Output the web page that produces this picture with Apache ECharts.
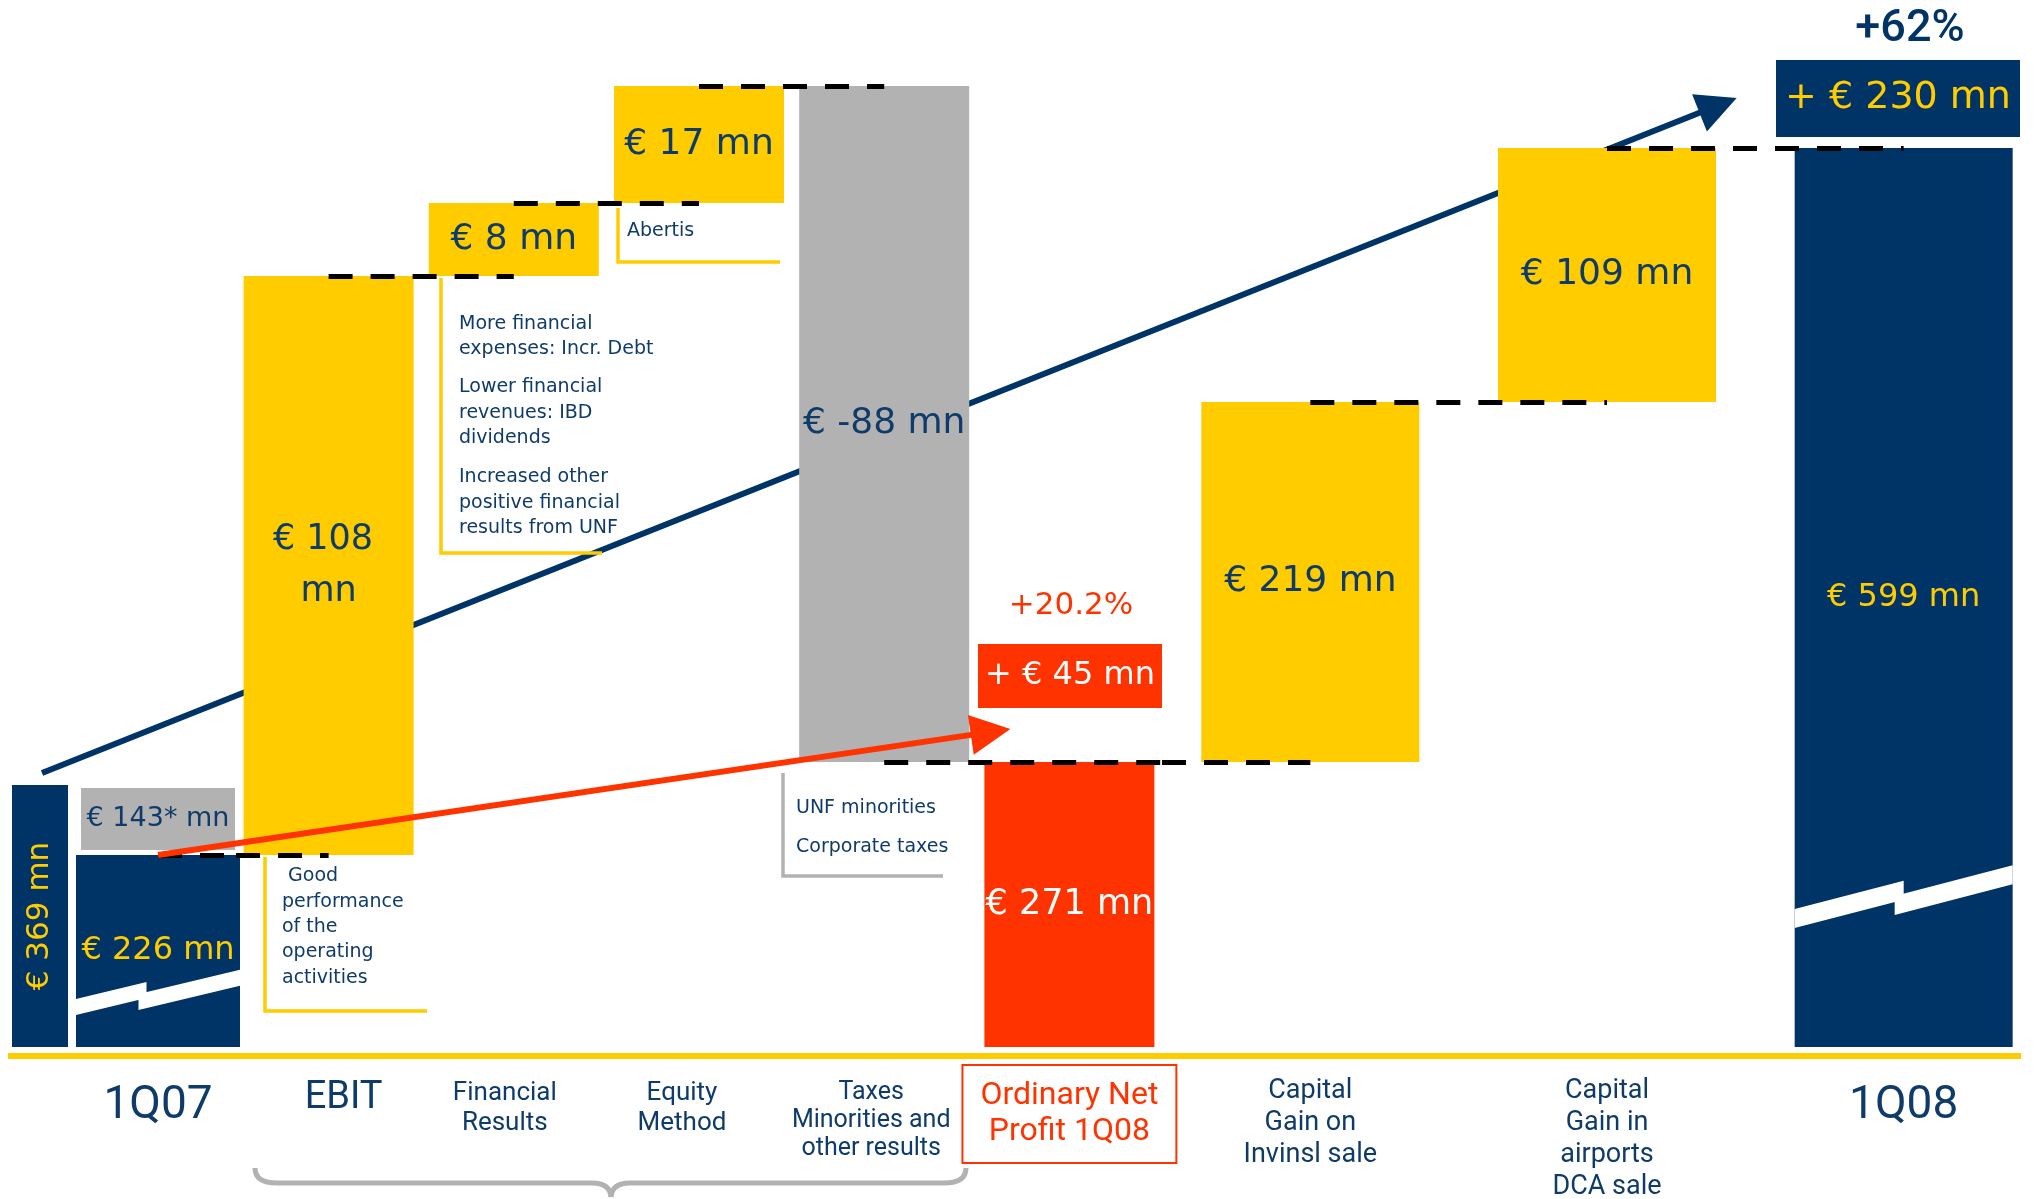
<!DOCTYPE html>
<html>
<head>
<meta charset="utf-8">
<title>Net profit bridge 1Q07 - 1Q08</title>
<script src="https://cdn.jsdelivr.net/npm/echarts@6/dist/echarts.min.js"></script>
<style>
  html, body { margin: 0; padding: 0; background: #fff; }
  #chart { width: 2037px; height: 1199px; }
</style>
</head>
<body>
<div id="chart"></div>
<script>
// ---- data (EUR mn) ----
const q07Category = ['1Q07'];
const bridgeCategories = ['EBIT', 'Financial\nResults', 'Equity\nMethod', 'Taxes\nMinorities and\nother results', 'Ordinary Net\nProfit 1Q08'];
const gainCategories = ['Capital\nGain on\nInvinsl sale', 'Capital\nGain in\nairports\nDCA sale', '1Q08'];

const netProfit1Q07 = 369;
const ordinary1Q07 = 226;
const nonOrdinary1Q07 = 143;
const nonOrdinaryNote = '*';
const bridgeSteps = [108, 8, 17, -88];      // EBIT, financial results, equity method, taxes & minorities
const ordinary1Q08 = 271;
const capitalGains = [219, 109];            // Invinsl sale, airports DCA sale
const netProfit1Q08 = 599;

const ordinaryGrowthText = '+20.2%';
const totalGrowthText = '+62%';

const noteEbit = [' Good', 'performance', 'of the', 'operating', 'activities'];
const noteFinancial = [
  ['More financial', 'expenses: Incr. Debt'],
  ['Lower financial', 'revenues: IBD', 'dividends'],
  ['Increased other', 'positive financial', 'results from UNF']
];
const noteEquity = ['Abertis'];
const noteTaxes = [['UNF minorities'], ['Corporate taxes']];

// ---- derived waterfall levels ----
const bridgeLevels = [ordinary1Q07];
bridgeSteps.forEach(s => bridgeLevels.push(bridgeLevels[bridgeLevels.length - 1] + s));
const bridgeBase = bridgeSteps.map((s, i) => Math.min(bridgeLevels[i], bridgeLevels[i + 1])).concat([0]);
const bridgeSize = bridgeSteps.map(Math.abs).concat([ordinary1Q08]);
const bridgeShown = bridgeSteps.concat([ordinary1Q08]);

const gainLevels = [ordinary1Q08];
capitalGains.forEach(g => gainLevels.push(gainLevels[gainLevels.length - 1] + g));
const gainBase = capitalGains.map((g, i) => gainLevels[i]).concat([0]);
const gainSize = capitalGains.concat([netProfit1Q08]);

const mn = v => '€ ' + v + ' mn';

// ---- style ----
const NAVY = '#003366';
const YELLOW = '#FFCC00';
const GREY = '#B2B2B2';
const RED = '#FF3300';
const TEXT = '#0F3B6B';
const LABEL_FONT = 'DejaVu Sans';
const CAT_FONT = 'Roboto';

const GRID_TOTAL  = { left: 12,   top: 785, width: 56,  height: 262 };
const GRID_Q07    = { left: 76,   top: 783, width: 164, height: 264 };
const GRID_BRIDGE = { left: 236,  top: 86,  width: 926, height: 961 };
const GRID_GAINS  = { left: 1162, top: 148, width: 890, height: 899 };
const BRIDGE_BAR = 170;
const GAINS_BAR = 218;

const dash = { color: '#000', width: 5, type: [24, 18] };
function connectors(pairs) {
  return { silent: true, symbol: 'none', label: { show: false }, lineStyle: dash,
           emphasis: { disabled: true }, animation: false, z: 6, data: pairs };
}
const hiddenY = (grid, extra) => Object.assign({ gridIndex: grid, type: 'value', show: false,
  breakArea: { show: false, itemStyle: { opacity: 0 } } }, extra);
const catAxis = (grid, data, margin) => ({
  gridIndex: grid, type: 'category', data: data,
  axisLine: { show: false }, axisTick: { show: false }, splitLine: { show: false },
  axisLabel: { show: true, interval: 0, margin: margin, color: TEXT, fontFamily: CAT_FONT }
});

const bridgeCatStyle = [
  { fontSize: 38, lineHeight: 38, padding: [14, 0, 0, 30] },
  { fontSize: 26, lineHeight: 30, padding: [13, 18, 0, 0] },
  { fontSize: 26, lineHeight: 30, padding: [13, 34, 0, 0] },
  { fontSize: 25, lineHeight: 28, padding: [14, 26, 0, 0] },
  { fontSize: 32, lineHeight: 36, color: RED, borderColor: RED, borderWidth: 2, padding: [13, 18, 13, 18] }
];
const gainCatStyle = [
  { fontSize: 27, lineHeight: 32 },
  { fontSize: 27, lineHeight: 32 },
  { fontSize: 46, lineHeight: 46, padding: [8, 0, 0, 0] }
];
const withStyle = (names, styles) => names.map((n, i) => ({
  value: n, textStyle: Object.assign({ fontFamily: CAT_FONT, color: TEXT }, styles[i]) }));

const bridgeColors = [YELLOW, YELLOW, YELLOW, GREY, RED];
const bridgeLabelColors = [TEXT, TEXT, TEXT, TEXT, '#fff'];
const bridgeLabelSizes = [35, 36, 36, 36, 35];
const gainColors = [YELLOW, YELLOW, NAVY];
const gainLabelColors = [TEXT, TEXT, YELLOW];
const gainLabelSizes = [36, 36, 32];

const option = {
  animation: false,
  backgroundColor: '#fff',
  tooltip: { show: false },
  grid: [GRID_TOTAL, GRID_Q07, GRID_BRIDGE, GRID_GAINS].map(g =>
    Object.assign({ containLabel: false, outerBoundsMode: 'none' }, g)),
  xAxis: [
    Object.assign(catAxis(0, [''], 0), { axisLabel: { show: false } }),
    catAxis(1, withStyle(q07Category, [{ fontSize: 46, lineHeight: 46 }]), 36),
    catAxis(2, withStyle(bridgeCategories, bridgeCatStyle), 18),
    catAxis(3, withStyle(gainCategories, gainCatStyle), 28)
  ],
  // broken value axes: each section keeps its own compressed scale
  yAxis: [
    hiddenY(0, { min: 0, max: netProfit1Q07 }),
    hiddenY(1, { min: 0, max: netProfit1Q07, breaks: [{ start: 235, end: 360, gap: 66.7 }] }),
    hiddenY(2, { min: 0, max: 359, breaks: [
      { start: 5, end: 215, gap: 5.1 }, { start: 230, end: 267, gap: 2.2 },
      { start: 275, end: 330, gap: 45.4 }, { start: 344, end: 357, gap: 8.86 }] }),
    hiddenY(3, { min: 0, max: netProfit1Q08, breaks: [
      { start: 10, end: 260, gap: 101.3 }, { start: 280, end: 480, gap: 135.5 }] })
  ],
  series: [
    {
      // 1Q07 net profit
      type: 'bar', xAxisIndex: 0, yAxisIndex: 0, barWidth: '100%',
      data: [netProfit1Q07], itemStyle: { color: NAVY }, emphasis: { disabled: true },
      label: { show: true, position: 'inside', rotate: 90, color: YELLOW, fontSize: 31, overflow: 'none',
               fontFamily: LABEL_FONT, formatter: p => mn(p.value) }
    },
    {
      // 1Q07 ordinary part
      type: 'bar', xAxisIndex: 1, yAxisIndex: 1, stack: 'q07', barWidth: '100%',
      data: [ordinary1Q07], itemStyle: { color: NAVY }, emphasis: { disabled: true },
      label: { show: true, position: 'inside', color: YELLOW, fontSize: 32, overflow: 'none',
               fontFamily: LABEL_FONT, formatter: p => mn(p.value) }
    },
    {
      // 1Q07 non-ordinary part
      type: 'bar', xAxisIndex: 1, yAxisIndex: 1, stack: 'q07', barWidth: '100%',
      data: [nonOrdinary1Q07], itemStyle: { color: GREY, borderColor: '#fff', borderWidth: 5 },
      emphasis: { disabled: true },
      label: { show: true, position: 'inside', color: TEXT, fontSize: 27, overflow: 'none',
               fontFamily: LABEL_FONT, formatter: p => mn(p.value + nonOrdinaryNote) },
      markLine: connectors([
        [{ coord: [0, ordinary1Q07] }, { coord: [0, ordinary1Q07], x: GRID_Q07.left + GRID_Q07.width }]
      ])
    },
    {
      type: 'bar', xAxisIndex: 2, yAxisIndex: 2, stack: 'bridge', barWidth: BRIDGE_BAR,
      data: bridgeBase, itemStyle: { color: 'rgba(0,0,0,0)' }, silent: true, emphasis: { disabled: true }
    },
    {
      type: 'bar', xAxisIndex: 2, yAxisIndex: 2, stack: 'bridge', barWidth: BRIDGE_BAR,
      emphasis: { disabled: true },
      data: bridgeSize.map((v, i) => ({
        value: v,
        itemStyle: { color: bridgeColors[i] },
        label: Object.assign({ color: bridgeLabelColors[i], fontSize: bridgeLabelSizes[i] },
          i === 0 ? { width: 140, overflow: 'break', lineHeight: 52 } : {})
      })),
      label: { show: true, position: 'inside', fontFamily: LABEL_FONT, overflow: 'none',
               formatter: p => mn(bridgeShown[p.dataIndex]) },
      markLine: connectors([
        [{ coord: [0, bridgeLevels[0]], x: GRID_BRIDGE.left }, { coord: [0, bridgeLevels[0]] }],
        [{ coord: [0, bridgeLevels[1]] }, { coord: [1, bridgeLevels[1]] }],
        [{ coord: [1, bridgeLevels[2]] }, { coord: [2, bridgeLevels[2]] }],
        [{ coord: [2, bridgeLevels[3]] }, { coord: [3, bridgeLevels[3]] }],
        [{ coord: [3, bridgeLevels[4]] }, { coord: [4, bridgeLevels[4]], x: GRID_BRIDGE.left + GRID_BRIDGE.width }]
      ])
    },
    {
      type: 'bar', xAxisIndex: 3, yAxisIndex: 3, stack: 'gain', barWidth: GAINS_BAR,
      data: gainBase, itemStyle: { color: 'rgba(0,0,0,0)' }, silent: true, emphasis: { disabled: true }
    },
    {
      type: 'bar', xAxisIndex: 3, yAxisIndex: 3, stack: 'gain', barWidth: GAINS_BAR,
      emphasis: { disabled: true },
      data: gainSize.map((v, i) => ({
        value: v,
        itemStyle: { color: gainColors[i] },
        label: { color: gainLabelColors[i], fontSize: gainLabelSizes[i] }
      })),
      label: { show: true, position: 'inside', fontFamily: LABEL_FONT, overflow: 'none', formatter: p => mn(p.value) },
      markLine: connectors([
        [{ coord: [0, gainLevels[0]], x: GRID_GAINS.left }, { coord: [0, gainLevels[0]] }],
        [{ coord: [0, gainLevels[1]] }, { coord: [1, gainLevels[1]] }],
        [{ coord: [1, gainLevels[2]] }, { coord: [2, gainLevels[2]] }]
      ])
    }
  ]
};

const chart = echarts.init(document.getElementById('chart'));
chart.setOption(option);

// ---- annotations anchored on the bars ----
const px = (grid, pt) => chart.convertToPixel({ gridIndex: grid }, pt);

function arrow(from, to, color, width, headLen, headWid, z) {
  const dx = to[0] - from[0], dy = to[1] - from[1], len = Math.hypot(dx, dy);
  const ux = dx / len, uy = dy / len, nx = -uy, ny = ux;
  const bx = to[0] - ux * headLen, by = to[1] - uy * headLen;
  return [
    { type: 'line', z: z, silent: true,
      shape: { x1: from[0], y1: from[1], x2: bx + ux * 2, y2: by + uy * 2 },
      style: { stroke: color, lineWidth: width } },
    { type: 'polygon', z: z, silent: true,
      shape: { points: [to, [bx + nx * headWid / 2, by + ny * headWid / 2], [bx - nx * headWid / 2, by - ny * headWid / 2]] },
      style: { fill: color } }
  ];
}

function bolt(x0, x1, bottom, b) {
  const yL = bottom - b.rise;
  const top = x => yL - b.slope * (x - x0);
  const xn = x0 + b.at * (x1 - x0);
  const xs = xn - b.shift;
  const shapes = [
    [[x0, top(x0)], [xn, top(xn)], [xn, top(xn) + b.thick], [x0, top(x0) + b.thick]],
    [[xs, top(xs) + b.step], [x1, top(x1) + b.step], [x1, top(x1) + b.step + b.thick], [xs, top(xs) + b.step + b.thick]]
  ];
  return shapes.map(pts => ({ type: 'polygon', z: 3, silent: true, shape: { points: pts }, style: { fill: '#fff' } }));
}

function textBlock(lines, left, firstBaseline, size, lh, color) {
  return { type: 'text', z: 5, silent: true, x: left, y: firstBaseline - lh / 2 - 0.35 * size,
    style: { text: lines.join('\n'), fill: color || TEXT, fontSize: size, fontFamily: LABEL_FONT,
             lineHeight: lh, align: 'left', verticalAlign: 'top' } };
}
function centerText(text, cx, cy, size, color, family, weight) {
  return { type: 'text', z: 8, silent: true, x: cx, y: cy,
    style: { text: text, fill: color, fontSize: size, fontFamily: family || LABEL_FONT,
             fontWeight: weight || 'normal', align: 'center', verticalAlign: 'middle' } };
}
function lPath(points, color) {
  return { type: 'polyline', z: 4, silent: true, shape: { points: points },
           style: { stroke: color, lineWidth: 3.5, fill: null } };
}

const elements = [];

// baseline rule
elements.push({ type: 'rect', z: 1, silent: true, shape: { x: 8, y: 1053, width: 2013, height: 6 }, style: { fill: YELLOW } });

// growth arrows
const q07Top = px(0, [0, netProfit1Q07]);
const q08Top = px(3, [2, netProfit1Q08]);
elements.push(...arrow([q07Top[0] + 2, q07Top[1] - 12], [q08Top[0] - 167, q08Top[1] - 50], NAVY, 6, 40, 40, 1));
const ordStart = px(1, [0, ordinary1Q07]);
const ordEnd = px(2, [4, ordinary1Q08]);
elements.push(...arrow(ordStart, [ordEnd[0] - 59, ordEnd[1] - 33], RED, 6, 40, 40, 20));

// axis-break marks on the two long navy bars
const q07Base = px(1, [0, 0]);
elements.push(...bolt(q07Base[0] - GRID_Q07.width / 2, q07Base[0] + GRID_Q07.width / 2, q07Base[1],
  { rise: 48, thick: 16, slope: 0.24, at: 0.43, step: 10, shift: 8 }));
const q08Base = px(3, [2, 0]);
elements.push(...bolt(q08Base[0] - GAINS_BAR / 2, q08Base[0] + GAINS_BAR / 2, q08Base[1],
  { rise: 138, thick: 19, slope: 0.26, at: 0.5, step: 13, shift: 9 }));

// note boxes
elements.push(lPath([[265, 857], [265, 1011], [427, 1011]], YELLOW));
elements.push(textBlock(noteEbit, 282, 883, 19, 25.4));
elements.push(lPath([[441, 278], [441, 553], [602, 553]], YELLOW));
[330.7, 394, 484].forEach((bl, i) => elements.push(textBlock(noteFinancial[i], 459, bl, 19, 25.4)));
elements.push(lPath([[618, 208], [618, 262], [780, 262]], YELLOW));
elements.push(textBlock(noteEquity, 627, 238, 19, 25.4));
elements.push(lPath([[783, 773], [783, 876], [943, 876]], GREY));
[815, 854].forEach((bl, i) => elements.push(textBlock(noteTaxes[i], 796, bl, 19, 25.4)));

// ordinary profit change
elements.push(centerText(ordinaryGrowthText, 1071, 606, 31, RED));
elements.push({ type: 'rect', z: 7, silent: true, shape: { x: 978, y: 644, width: 184, height: 64 }, style: { fill: RED } });
elements.push(centerText('+ ' + mn(ordinary1Q08 - ordinary1Q07), 1070, 676, 32, '#fff'));

// total net profit change
elements.push(centerText(totalGrowthText, 1910, 30, 45, NAVY, CAT_FONT, 500));
elements.push({ type: 'rect', z: 7, silent: true, shape: { x: 1776, y: 60, width: 244, height: 77 }, style: { fill: NAVY } });
elements.push(centerText('+ ' + mn(netProfit1Q08 - netProfit1Q07), 1898, 98, 38, YELLOW));

// curly brace under the ordinary bridge items
const braceStyle = { stroke: GREY, lineWidth: 5, fill: null };
const bz = (x1, y1, cx, cy, x2, y2) => ({ type: 'bezierCurve', z: 2, silent: true,
  shape: { x1: x1, y1: y1, cpx1: cx, cpy1: cy, x2: x2, y2: y2 }, style: braceStyle });
const ln = (x1, y1, x2, y2) => ({ type: 'line', z: 2, silent: true, shape: { x1: x1, y1: y1, x2: x2, y2: y2 }, style: braceStyle });
elements.push(bz(255, 1168, 255, 1183, 277, 1183), ln(277, 1183, 592, 1183),
  bz(592, 1183, 610, 1183, 611, 1197), bz(611, 1197, 612, 1183, 630, 1183),
  ln(630, 1183, 944, 1183), bz(944, 1183, 966, 1183, 966, 1168));

chart.setOption({ graphic: { elements: elements } });
</script>
</body>
</html>
